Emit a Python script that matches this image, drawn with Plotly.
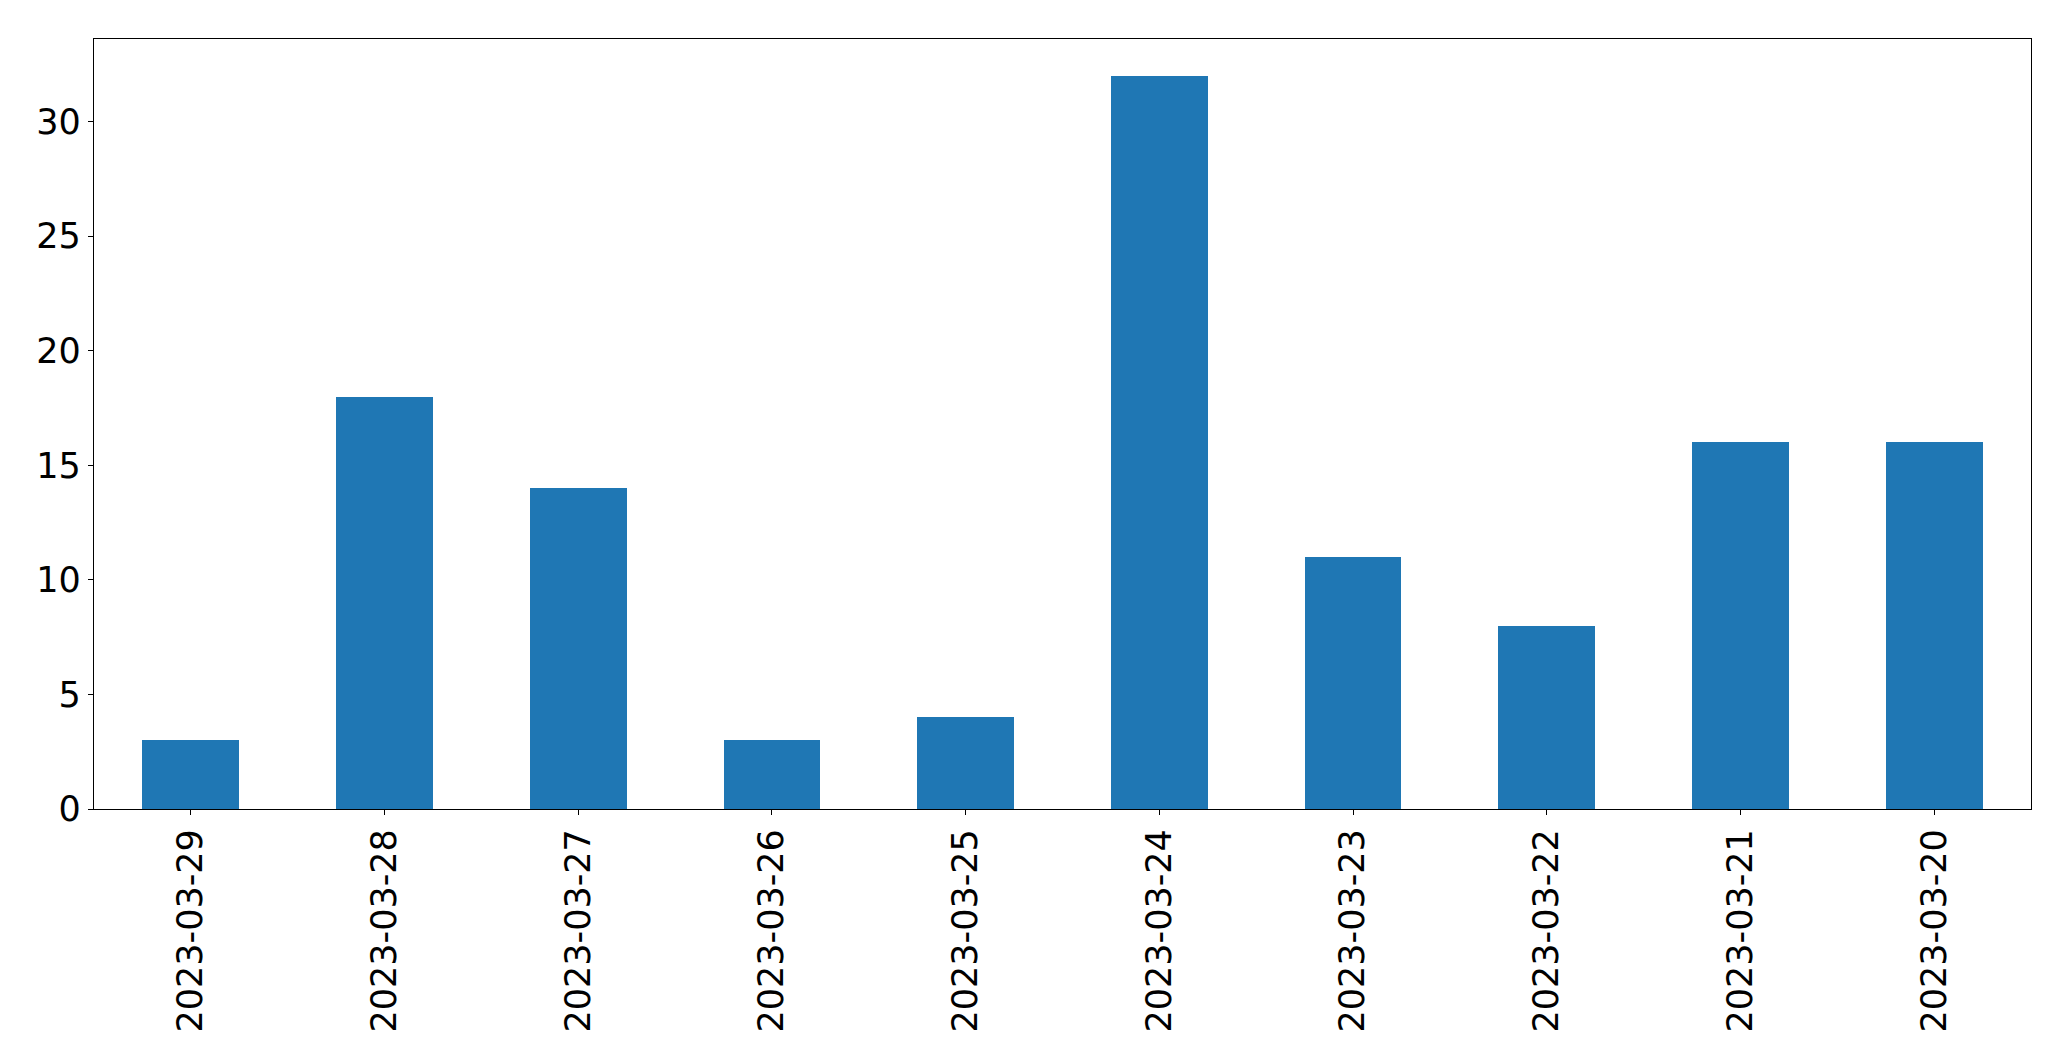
import plotly.graph_objects as go

dates = ["2023-03-29", "2023-03-28", "2023-03-27", "2023-03-26", "2023-03-25",
         "2023-03-24", "2023-03-23", "2023-03-22", "2023-03-21", "2023-03-20"]
counts = [3, 18, 14, 3, 4, 32, 11, 8, 16, 16]
y_ticks = [0, 5, 10, 15, 20, 25, 30]

fig = go.Figure(go.Bar(x=dates, y=counts, width=0.5, marker=dict(color="#1f77b4", line=dict(width=0))))

fig.update_layout(
    width=2071, height=1061,
    margin=dict(l=94, r=40, t=39, b=252, pad=0),
    plot_bgcolor="white", paper_bgcolor="white",
    font=dict(family="DejaVu Sans", size=35, color="black"),
    showlegend=False,
    bargap=0,
)
fig.update_xaxes(
    type="category", range=[-0.5, 9.5], tickangle=-90, automargin=False,
    showline=True, linecolor="black", linewidth=1.3, mirror=True,
    ticks="outside", ticklen=5, tickwidth=1.3, tickcolor="black",
    showgrid=False, zeroline=False,
)
fig.update_yaxes(
    range=[0, 33.6], tickvals=y_ticks, automargin=False,
    showline=True, linecolor="black", linewidth=1.3, mirror=True,
    ticks="outside", ticklen=5, tickwidth=1.3, tickcolor="black",
    showgrid=False, zeroline=False,
)
fig.write_html("out.html", config={"displayModeBar": False},
               post_script="document.body.style.margin='0';document.body.style.overflow='hidden';")
